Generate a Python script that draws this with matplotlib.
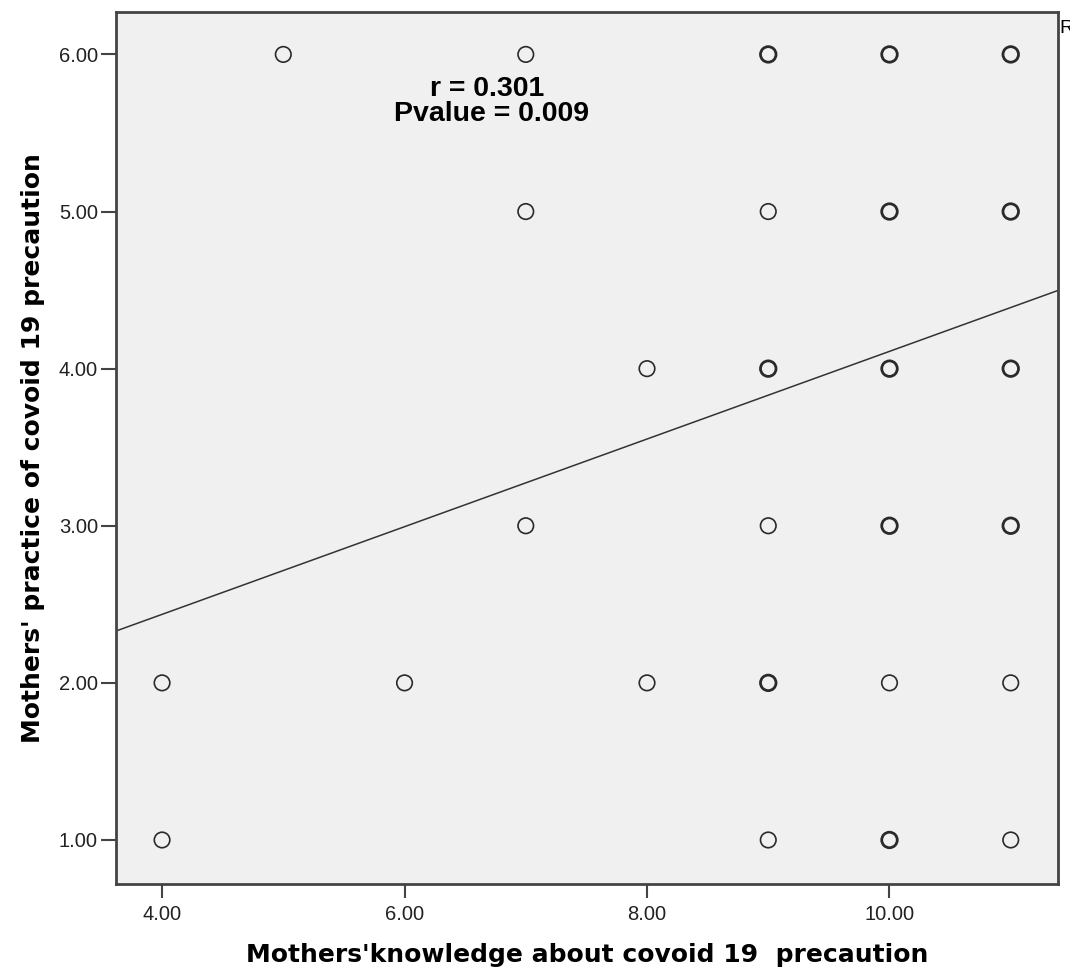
import matplotlib.pyplot as plt

# knowledge score, practice score, and whether several cases overlap at that spot
knowledge = [4, 4, 5, 6, 7, 7, 7, 8, 8,
             9, 9, 9, 9, 9, 9,
             10, 10, 10, 10, 10, 10,
             11, 11, 11, 11, 11, 11]
practice = [2, 1, 6, 2, 6, 5, 3, 4, 2,
            6, 5, 4, 3, 2, 1,
            6, 5, 4, 3, 2, 1,
            6, 5, 4, 3, 2, 1]
overlap = [0, 0, 0, 0, 0, 0, 0, 0, 0,
           1, 0, 1, 0, 1, 0,
           1, 1, 1, 1, 0, 1,
           1, 1, 1, 1, 0, 0]

# fit line
fit_intercept = 1.32
fit_slope = 0.279

x_ticks = [4, 6, 8, 10]
y_ticks = [1, 2, 3, 4, 5, 6]

fig = plt.figure(figsize=(10.7, 9.76), dpi=100)
ax = fig.add_axes([0.1084, 0.0943, 0.8804, 0.8934])
ax.set_facecolor('#f0f0f0')

widths = [2.0 if o else 1.2 for o in overlap]
ax.scatter(knowledge, practice, s=125, facecolors='none', edgecolors='#2a2a2a',
           linewidths=widths, zorder=3)

ax.axline((0, fit_intercept), slope=fit_slope, color='#333333', linewidth=1.1, zorder=2)

ax.set_xlim(3.62, 11.39)
ax.set_ylim(0.72, 6.27)
ax.set_xticks(x_ticks)
ax.set_xticklabels([f'{v:.2f}' for v in x_ticks])
ax.set_yticks(y_ticks)
ax.set_yticklabels([f'{v:.2f}' for v in y_ticks])

for s in ax.spines.values():
    s.set_color('#444444')
    s.set_linewidth(2)
ax.tick_params(axis='both', direction='out', color='#444444', width=1.5,
               labelsize=14.5, labelcolor='#222222', labelfontfamily='Liberation Sans')
ax.tick_params(axis='x', length=10, pad=5)
ax.tick_params(axis='y', length=11, pad=2)

ax.set_xlabel("Mothers'knowledge about covoid 19  precaution", fontsize=18,
              fontweight='bold', family='DejaVu Sans', labelpad=14)
ax.set_ylabel("Mothers' practice of covoid 19 precaution", fontsize=18,
              fontweight='bold', family='DejaVu Sans', labelpad=10)

ax.text(6.68, 5.78, 'r = 0.301', ha='center', va='center', fontsize=20.5,
        fontweight='bold', family='Liberation Sans')
ax.text(6.72, 5.62, 'Pvalue = 0.009', ha='center', va='center', fontsize=20.5,
        fontweight='bold', family='Liberation Sans')

fig.text(0.9897, 0.971, 'R', ha='left', va='center', fontsize=14,
         family='Liberation Sans')

fig.savefig('out.png', dpi=100)
